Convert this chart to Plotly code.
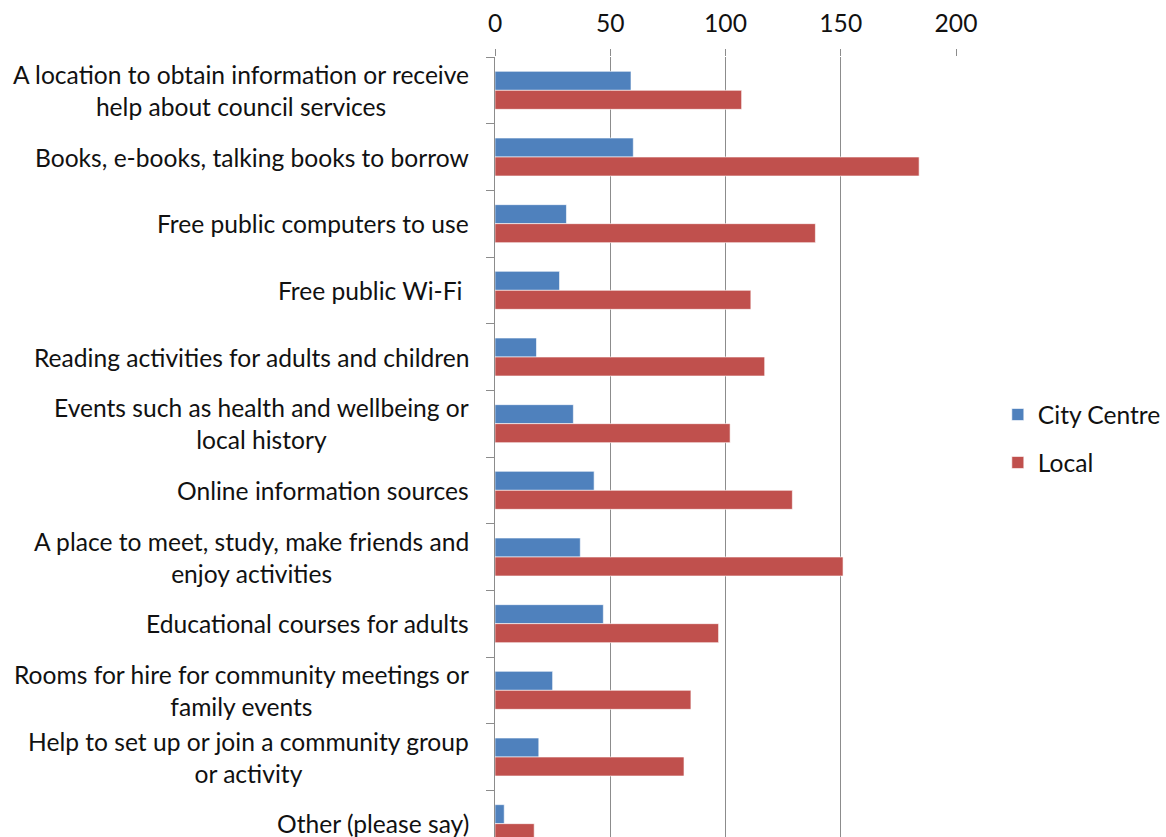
import plotly.graph_objects as go

# Survey: library services wanted, City Centre vs Local responses
categories = [
    "A location to obtain information or receive<br>help about council services",
    "Books, e-books, talking books to borrow",
    "Free public computers to use",
    "Free public Wi-Fi ",
    "Reading activities for adults and children",
    "Events such as health and wellbeing or<br>local history",
    "Online information sources",
    "A place to meet, study, make friends and<br>enjoy activities",
    "Educational courses for adults",
    "Rooms for hire for community meetings or<br>family events",
    "Help to set up or join a community group<br>or activity",
    "Other (please say)",
]
city_centre = [59, 60, 31, 28, 18, 34, 43, 37, 47, 25, 19, 4]
local = [107, 184, 139, 111, 117, 102, 129, 151, 97, 85, 82, 17]
x_ticks = [0, 50, 100, 150, 200]

FONT = "Lato"
FSIZE = 24.6
GRID = "#8c8c8c"
TEXT = "#111111"
idx = list(range(len(categories)))

fig = go.Figure()
fig.add_trace(go.Bar(
    y=idx, x=city_centre, orientation="h", name="City Centre",
    marker=dict(color="#4F81BD", line=dict(color="rgba(255,255,255,0.6)", width=1)),
    legendgroup="a",
))
fig.add_trace(go.Bar(
    y=idx, x=local, orientation="h", name="Local",
    marker=dict(color="#C0504D", line=dict(color="rgba(255,255,255,0.6)", width=1)),
    legendgroup="b",
))

# Category labels, centred line by line, right edge just left of the axis
for i, label in enumerate(categories):
    fig.add_annotation(
        x=0, xref="paper", y=i, yref="y",
        text=label, showarrow=False, xanchor="right", yanchor="middle",
        align="center", xshift=-24,
        font=dict(family=FONT, size=FSIZE, color=TEXT),
    )

fig.update_layout(
    width=1166, height=837,
    margin=dict(l=495, r=208, t=57, b=0),
    paper_bgcolor="white", plot_bgcolor="white",
    barmode="group", bargap=0.43, bargroupgap=0,
    font=dict(family=FONT, size=FSIZE, color=TEXT),
    showlegend=True,
    legend=dict(
        x=(1000 - 495) / 463, xanchor="left",
        y=(780 - 335) / 780, yanchor="top",
        traceorder="grouped", tracegroupgap=13,
        font=dict(family=FONT, size=FSIZE, color=TEXT),
        bgcolor="rgba(0,0,0,0)",
    ),
    xaxis=dict(
        side="top", range=[0, 200], tickvals=x_ticks,
        showgrid=True, gridcolor=GRID, gridwidth=1,
        showline=False, zeroline=False,
        ticks="outside", ticklen=7, tickcolor=GRID,
        ticklabelstandoff=7,
        tickfont=dict(family=FONT, size=FSIZE, color=TEXT),
        fixedrange=True,
    ),
    yaxis=dict(
        type="linear", range=[11.2, -0.5],
        tickvals=[i - 0.5 for i in range(len(categories) + 1)],
        showticklabels=False,
        ticks="outside", ticklen=8, tickcolor=GRID,
        showgrid=False, zeroline=False,
        showline=True, linecolor=GRID, linewidth=1,
        fixedrange=True,
    ),
)

fig.write_html("out.html")
